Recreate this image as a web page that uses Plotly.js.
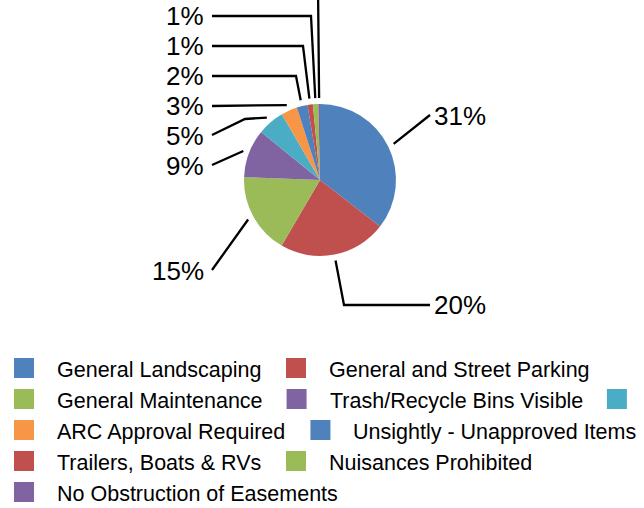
<!DOCTYPE html>
<html>
<head>
<meta charset="utf-8">
<script src="https://cdn.plot.ly/plotly-3.0.1.min.js"></script>
<style>html,body{margin:0;padding:0;background:#fff}#chart{width:644px;height:508px}</style>
</head>
<body>
<div id="chart"></div>
<script>
// ---- data ----
var categories = [
  "General Landscaping",
  "General and Street Parking",
  "General Maintenance",
  "Trash/Recycle Bins Visible",
  "",
  "ARC Approval Required",
  "Unsightly - Unapproved Items",
  "Trailers, Boats & RVs",
  "Nuisances Prohibited",
  "No Obstruction of Easements"
];
var values = [31, 20, 15, 9, 5, 3, 2, 1, 1, 0.3];
var sliceColors = ["#4F81BD", "#C0504D", "#9BBB59", "#8064A2", "#4BACC6",
                   "#F79646", "#4F81BD", "#C0504D", "#9BBB59", "#8064A2"];
var valueLabels = values.map(function (v) { return Math.round(v) + "%"; });

// ---- layout constants (pixels) ----
var W = 644, H = 508;
var cx = 320, cy = 180, R = 76;
var FONT = "Liberation Sans, Arial, sans-serif";
// leader line bends / ends and label side per slice
var leaderPts = [
  [[430, 115]],
  [[344, 305], [430, 305]],
  [[212, 270]],
  [[212, 165]],
  [[245, 119], [212, 135]],
  [[212, 106]],
  [[296, 76], [212, 76]],
  [[303, 46], [212, 46]],
  [[311, 16], [212, 16]],
  [[318, -14], [212, -14]]
];
// null = label lies outside the visible picture
var labelY = [115.5, 305, 271, 166, 136, 106, 76, 46, 16, null];
var legendRows = [[0, 1], [2, 3, 4], [5, 6], [7, 8], [9]];
var legendColX = [14, 286];
var legendTop = 358, legendRowH = 31, legendBox = 20, legendTextGap = 23;
var legendFontSize = 21.5;

function px(x) { return x / W; }
function py(y) { return 1 - y / H; }

var shapes = [], annotations = [];

// leader lines & value labels
var total = values.reduce(function (a, b) { return a + b; }, 0);
var cum = 0;
values.forEach(function (v, i) {
  var mid = (cum + v / 2) / total * 2 * Math.PI;
  cum += v;
  var ax = cx + (R + 6) * Math.sin(mid);
  var ay = cy - (R + 6) * Math.cos(mid);
  var pts = [[ax, ay]].concat(leaderPts[i]);
  var d = pts.map(function (p, k) { return (k ? "L" : "M") + px(p[0]) + "," + py(p[1]); }).join(" ");
  shapes.push({type: "path", xref: "paper", yref: "paper", path: d,
               line: {color: "#000", width: 2.3}});
  if (labelY[i] === null) return;
  var right = leaderPts[i][leaderPts[i].length - 1][0] > cx;
  annotations.push({
    xref: "paper", yref: "paper", showarrow: false,
    x: px(right ? 432 : 206), y: py(labelY[i]),
    xanchor: right ? "left" : "right", yanchor: "middle",
    text: valueLabels[i], font: {family: FONT, size: 26, color: "#000"}
  });
});

// legend (drawn manually to mimic the reference flow)
var ctx = document.createElement("canvas").getContext("2d");
ctx.font = legendFontSize + "px 'Liberation Sans'";
legendRows.forEach(function (row, r) {
  var yc = legendTop + legendBox / 2 + r * legendRowH;
  var prevEnd = null;
  row.forEach(function (idx, k) {
    var x = k === 0 ? legendColX[0] : Math.max(legendColX[k] || 0, prevEnd + 24);
    shapes.push({type: "rect", xref: "paper", yref: "paper",
                 x0: px(x), x1: px(x + legendBox), y0: py(yc + legendBox / 2), y1: py(yc - legendBox / 2),
                 fillcolor: sliceColors[idx], line: {width: 0}});
    var tx = x + legendBox + legendTextGap;
    var name = categories[idx];
    if (name) {
      annotations.push({xref: "paper", yref: "paper", showarrow: false,
        x: px(tx - 2), y: py(yc + 2), xanchor: "left", yanchor: "middle",
        text: name.replace(/&/g, "&amp;"), font: {family: FONT, size: legendFontSize, color: "#000"}});
    }
    prevEnd = tx + ctx.measureText(name).width;
  });
});

var trace = {
  type: "pie",
  values: values,
  labels: categories.map(function (c, i) { return "s" + i; }),
  marker: {colors: sliceColors, line: {width: 0}},
  sort: false,
  direction: "clockwise",
  rotation: 0,
  textinfo: "none",
  hoverinfo: "none",
  domain: {x: [px(cx - R), px(cx + R)], y: [py(cy + R), py(cy - R)]}
};

Plotly.newPlot("chart", [trace], {
  width: W, height: H,
  margin: {l: 0, r: 0, t: 0, b: 0},
  showlegend: false,
  paper_bgcolor: "#fff",
  font: {family: FONT},
  shapes: shapes,
  annotations: annotations
}, {displayModeBar: false, staticPlot: true});
</script>
</body>
</html>
